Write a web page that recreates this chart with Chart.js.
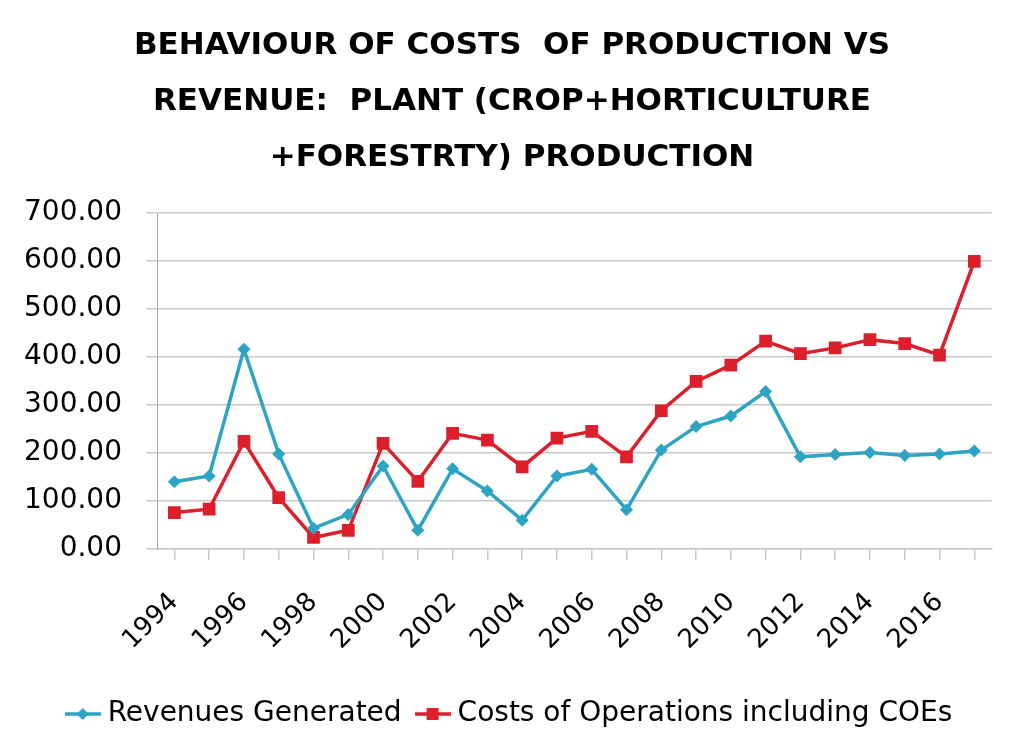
<!DOCTYPE html>
<html>
<head>
<meta charset="utf-8">
<title>Costs vs Revenue</title>
<script src="https://cdn.jsdelivr.net/npm/chart.js@4"></script>
<style>
  html, body { margin: 0; padding: 0; background: #fff; }
  #wrap { width: 1024px; height: 754px; }
</style>
</head>
<body>
<div id="wrap"><canvas id="chart" width="1024" height="754"></canvas></div>
<script>
// years on the x axis (only every other one gets a label)
const years = ['1994', '1995', '1996', '1997', '1998', '1999', '2000', '2001', '2002', '2003', '2004', '2005',
               '2006', '2007', '2008', '2009', '2010', '2011', '2012', '2013', '2014', '2015', '2016', '2017'];

const revenues = [140, 152, 416, 198, 43, 72, 173, 39, 167, 121, 60, 152,
                  166, 82, 206, 255, 277, 328, 192, 197, 201, 195, 198, 204];

const costs = [76, 83, 224, 107, 24, 39, 220, 141, 241, 227, 171, 231,
               245, 192, 288, 349, 383, 433, 407, 419, 436, 428, 404, 599];

const titleLines = ['BEHAVIOUR OF COSTS  OF PRODUCTION VS', 'REVENUE:  PLANT (CROP+HORTICULTURE', '+FORESTRTY) PRODUCTION'];
const seriesNames = ['Revenues Generated', 'Costs of Operations including COEs'];

const BLUE = '#2DA4C3';
const RED = '#DC1F2B';
const GRID = '#c8c8c8';
const FONT = '"DejaVu Sans", Verdana, sans-serif';

// little "line + marker" swatch for the legend, like the office-style legend
function legendSwatch(color, shape) {
    const c = document.createElement('canvas');
    c.width = 36; c.height = 16;
    const g = c.getContext('2d');
    g.strokeStyle = color; g.lineWidth = 3.5;
    g.beginPath(); g.moveTo(0, 8); g.lineTo(36, 8); g.stroke();
    g.fillStyle = color;
    g.beginPath();
    if (shape === 'diamond') {
        g.moveTo(18, 2); g.lineTo(24, 8); g.lineTo(18, 14); g.lineTo(12, 8);
    } else {
        g.rect(12, 2, 12, 12);
    }
    g.closePath(); g.fill();
    return c;
}
const swatches = [legendSwatch(BLUE, 'diamond'), legendSwatch(RED, 'square')];

new Chart(document.getElementById('chart'), {
    type: 'line',
    data: {
        labels: years,
        datasets: [{
            label: seriesNames[0],
            data: revenues,
            borderColor: BLUE, backgroundColor: BLUE,
            borderWidth: 3.5,
            pointStyle: 'rectRot', pointRadius: 6.5, pointBorderWidth: 0,
            tension: 0, fill: false
        }, {
            label: seriesNames[1],
            data: costs,
            borderColor: RED, backgroundColor: RED,
            borderWidth: 3.5,
            pointStyle: 'rect', pointRadius: 9, pointBorderWidth: 0,
            tension: 0, fill: false
        }]
    },
    options: {
        responsive: false,
        animation: false,
        devicePixelRatio: 1,
        layout: { padding: { left: 0, right: 0, top: 0, bottom: 16 } },
        plugins: {
            title: {
                display: true,
                text: titleLines,
                color: '#000',
                font: { family: FONT, size: 31, weight: 'bold', lineHeight: 56 / 31 },
                padding: { top: 18, bottom: 27 }
            },
            legend: {
                position: 'bottom',
                labels: {
                    usePointStyle: true,
                    pointStyleWidth: 22,
                    padding: 20,
                    color: '#000',
                    font: { family: FONT, size: 28 },
                    generateLabels(chart) {
                        return chart.data.datasets.map((ds, i) => ({
                            text: ds.label,
                            pointStyle: swatches[i],
                            fillStyle: ds.borderColor,
                            strokeStyle: ds.borderColor,
                            lineWidth: 0,
                            fontColor: '#000',
                            hidden: false,
                            datasetIndex: i
                        }));
                    }
                }
            },
            tooltip: { enabled: false }
        },
        scales: {
            x: {
                offset: true,
                afterFit(scale) { scale.height = 131; },
                grid: { display: true, drawOnChartArea: false, drawTicks: true, tickLength: 11, color: GRID, lineWidth: 1.5 },
                border: { display: true, color: GRID, width: 1.5 },
                ticks: {
                    autoSkip: false,
                    minRotation: 45, maxRotation: 45,
                    padding: 27,
                    color: '#000',
                    font: { family: FONT, size: 26 },
                    callback(val, i) { return i % 2 === 0 ? years[i] : ''; }
                }
            },
            y: {
                min: 0, max: 700,
                afterFit(scale) { scale.width = 157; },
                grid: { color: GRID, lineWidth: 1.5, tickLength: 11 },
                border: { display: true, color: '#a8a8a8', width: 1 },
                ticks: {
                    stepSize: 100,
                    padding: 24,
                    color: '#000',
                    font: { family: FONT, size: 28 },
                    callback(v) { return v.toFixed(2); }
                }
            },
            // empty right-hand axis, only reserves the right margin so title/legend stay centred on the page
            yRight: {
                position: 'right',
                afterFit(scale) { scale.width = 31; },
                grid: { display: false },
                border: { display: false },
                ticks: { display: false }
            }
        }
    }
});
</script>
</body>
</html>
